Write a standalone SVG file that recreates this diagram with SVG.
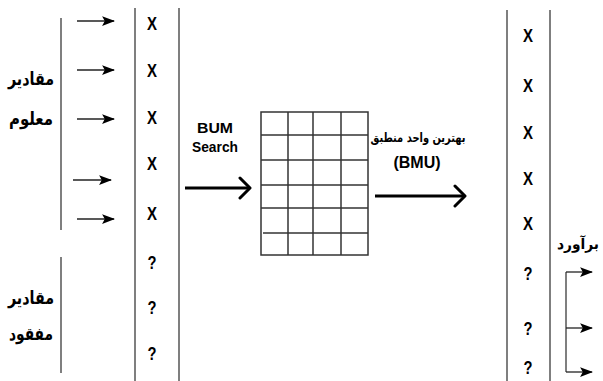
<svg xmlns="http://www.w3.org/2000/svg" width="603" height="381" viewBox="0 0 603 381">
<defs>
<style>
.vl{stroke:#555;stroke-width:1.5;fill:none}
.ar{stroke:#222;stroke-width:1.3;fill:none}
.grid{stroke:#333;stroke-width:1.5;fill:none}
.big{stroke:#000;stroke-width:3;fill:none}
.x{font-family:"Liberation Sans",Arial,sans-serif;font-weight:bold;font-size:19px;fill:#000;text-anchor:middle}
.q{font-family:"Liberation Sans",Arial,sans-serif;font-weight:bold;font-size:18px;fill:#000;text-anchor:middle}
.fa{font-family:"DejaVu Sans","Noto Sans",sans-serif;font-weight:bold;font-size:18px;fill:#000;text-anchor:middle}
.en{font-family:"Liberation Sans",Arial,sans-serif;font-weight:bold;font-size:15px;fill:#000;text-anchor:middle}
</style>
<marker id="ah" viewBox="0 0 12 10" refX="11" refY="5" markerWidth="13" markerHeight="11" markerUnits="userSpaceOnUse" orient="auto">
<path d="M0,0.5 L12,5 L0,9.5 L2.5,5 Z" fill="#000"/>
</marker>
<marker id="ahb" viewBox="0 0 14 24" refX="12" refY="12" markerWidth="14" markerHeight="24" markerUnits="userSpaceOnUse" orient="auto">
<path d="M2,2 L12,12 L2,22" fill="none" stroke="#000" stroke-width="3" stroke-linecap="round" stroke-linejoin="round"/>
</marker>
</defs>

<g id="columns">
<line class="vl" x1="61" y1="18" x2="61" y2="230"/>
<line class="vl" x1="61" y1="257" x2="61" y2="373"/>
<line class="vl" x1="135" y1="8" x2="135" y2="381"/>
<line class="vl" x1="179" y1="8" x2="179" y2="381"/>
<line class="vl" x1="507" y1="10" x2="507" y2="381"/>
<line class="vl" x1="550" y1="10" x2="550" y2="381"/>
</g>

<g id="label-known">
<text class="fa" x="31" y="85" textLength="46" lengthAdjust="spacingAndGlyphs">مقادير</text>
<text class="fa" x="31" y="125" textLength="44" lengthAdjust="spacingAndGlyphs">معلوم</text>
</g>
<g id="label-missing">
<text class="fa" x="31" y="304" textLength="46" lengthAdjust="spacingAndGlyphs">مقادير</text>
<text class="fa" x="31" y="340" textLength="44" lengthAdjust="spacingAndGlyphs">مفقود</text>
</g>

<g id="input-values">
<text class="x" x="152" y="30" textLength="10" lengthAdjust="spacingAndGlyphs">X</text>
<text class="x" x="152" y="77" textLength="10" lengthAdjust="spacingAndGlyphs">X</text>
<text class="x" x="152" y="124" textLength="10" lengthAdjust="spacingAndGlyphs">X</text>
<text class="x" x="152" y="170" textLength="10" lengthAdjust="spacingAndGlyphs">X</text>
<text class="x" x="152" y="220" textLength="10" lengthAdjust="spacingAndGlyphs">X</text>
<text class="q" x="152" y="269" textLength="9" lengthAdjust="spacingAndGlyphs">?</text>
<text class="q" x="152" y="314" textLength="9" lengthAdjust="spacingAndGlyphs">?</text>
<text class="q" x="152" y="360" textLength="9" lengthAdjust="spacingAndGlyphs">?</text>
</g>

<g id="bum-label">
<text class="en" x="215" y="133" textLength="36" lengthAdjust="spacingAndGlyphs">BUM</text>
<text class="en" x="215" y="152" textLength="46" lengthAdjust="spacingAndGlyphs">Search</text>
</g>

<g id="som-grid">
<rect class="grid" x="261" y="112" width="107" height="143"/>
<line class="grid" x1="288" y1="112" x2="288" y2="255"/>
<line class="grid" x1="313" y1="112" x2="313" y2="255"/>
<line class="grid" x1="341" y1="112" x2="341" y2="255"/>
<line class="grid" x1="261" y1="135" x2="368" y2="135"/>
<line class="grid" x1="261" y1="160" x2="368" y2="160"/>
<line class="grid" x1="261" y1="185" x2="368" y2="185"/>
<line class="grid" x1="261" y1="208" x2="368" y2="208"/>
<line class="grid" x1="263" y1="233" x2="368" y2="233"/>
</g>

<g id="bmu-label">
<text class="fa" x="418" y="142" style="font-size:13px" textLength="95" lengthAdjust="spacingAndGlyphs">بهترين واحد منطبق</text>
<text class="en" x="417" y="168" style="font-size:16px">(BMU)</text>
</g>

<g id="output-values">
<text class="x" x="528" y="42" textLength="10" lengthAdjust="spacingAndGlyphs">X</text>
<text class="x" x="528" y="92" textLength="10" lengthAdjust="spacingAndGlyphs">X</text>
<text class="x" x="528" y="139" textLength="10" lengthAdjust="spacingAndGlyphs">X</text>
<text class="x" x="528" y="185" textLength="10" lengthAdjust="spacingAndGlyphs">X</text>
<text class="x" x="528" y="230" textLength="10" lengthAdjust="spacingAndGlyphs">X</text>
<text class="q" x="528" y="280" textLength="9" lengthAdjust="spacingAndGlyphs">?</text>
<text class="q" x="528" y="335" textLength="9" lengthAdjust="spacingAndGlyphs">?</text>
<text class="q" x="528" y="374" textLength="9" lengthAdjust="spacingAndGlyphs">?</text>
</g>

<g id="label-estimate">
<text class="fa" x="578" y="249" style="font-size:15px" textLength="42" lengthAdjust="spacingAndGlyphs">برآورد</text>
</g>

<g id="connectors">
<line class="ar" x1="77" y1="21" x2="114" y2="21" marker-end="url(#ah)"/>
<line class="ar" x1="77" y1="70" x2="114" y2="70" marker-end="url(#ah)"/>
<line class="ar" x1="77" y1="119" x2="114" y2="119" marker-end="url(#ah)"/>
<line class="ar" x1="73" y1="180" x2="111" y2="180" marker-end="url(#ah)"/>
<line class="ar" x1="77" y1="219" x2="114" y2="219" marker-end="url(#ah)"/>
<line class="big" x1="185" y1="188" x2="250" y2="188" marker-end="url(#ahb)"/>
<line class="big" x1="375" y1="196" x2="465" y2="196" marker-end="url(#ahb)"/>
<path class="vl" d="M566,272 V372"/>
<line class="ar" x1="566" y1="272" x2="592" y2="272" marker-end="url(#ah)"/>
<line class="ar" x1="566" y1="328" x2="592" y2="328" marker-end="url(#ah)"/>
<line class="ar" x1="566" y1="372" x2="592" y2="372" marker-end="url(#ah)"/>
</g>
</svg>
